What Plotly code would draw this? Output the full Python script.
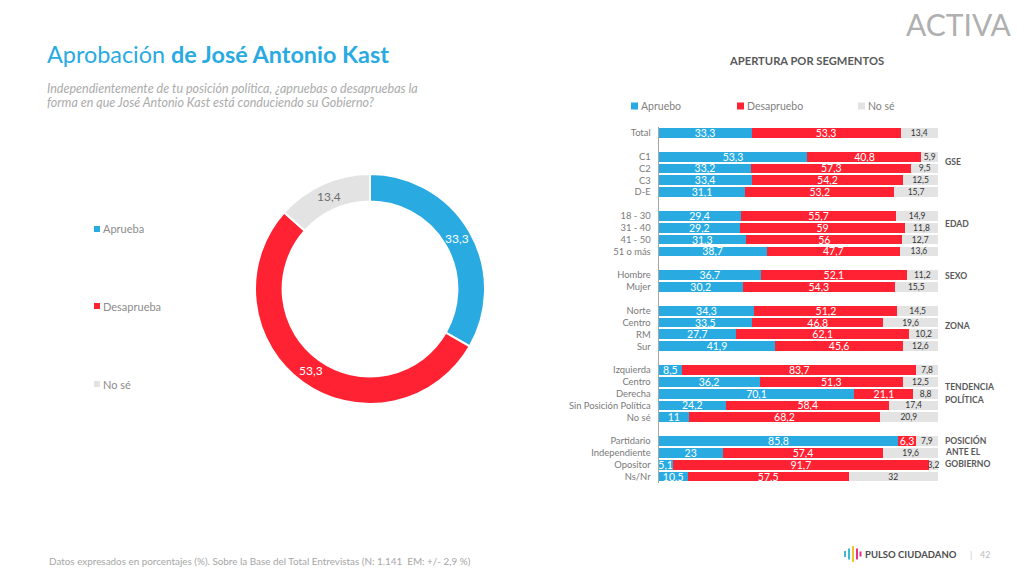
import math
import plotly.graph_objects as go

W, H = 1027, 578
BLUE, RED, GREY = "#29ABE2", "#FF2233", "#E3E3E3"
FONT = "Lato"

donut_labels = ["Aprueba", "Desaprueba", "No sé"]
donut_values = [33.3, 53.3, 13.4]

groups = [
    ["Total"],
    ["C1", "C2", "C3", "D-E"],
    ["18 - 30", "31 - 40", "41 - 50", "51 o más"],
    ["Hombre", "Mujer"],
    ["Norte", "Centro", "RM", "Sur"],
    ["Izquierda", "Centro", "Derecha", "Sin Posición Política", "No sé"],
    ["Partidario", "Independiente", "Opositor", "Ns/Nr"],
]
aprueba = [33.3, 53.3, 33.2, 33.4, 31.1, 29.4, 29.2, 31.3, 38.7, 36.7, 30.2,
           34.3, 33.5, 27.7, 41.9, 8.5, 36.2, 70.1, 24.2, 11, 85.8, 23, 5.1, 10.5]
desaprueba = [53.3, 40.8, 57.3, 54.2, 53.2, 55.7, 59, 56, 47.7, 52.1, 54.3,
              51.2, 46.8, 62.1, 45.6, 83.7, 51.3, 21.1, 58.4, 68.2, 6.3, 57.4, 91.7, 57.5]
nose = [13.4, 5.9, 9.5, 12.5, 15.7, 14.9, 11.8, 12.7, 13.6, 11.2, 15.5,
        14.5, 19.6, 10.2, 12.6, 7.8, 12.5, 8.8, 17.4, 20.9, 7.9, 19.6, 3.2, 32]

rows, labels = [], []
r = 0
for g in groups:
    for name in g:
        rows.append(r)
        labels.append(name)
        r += 1
    r += 1
last_row = rows[-1]


def px(x):
    return x / W


def py(y):
    return 1 - y / H


def comma(v):
    return str(v).replace(".", ",")


fig = go.Figure()
fig.add_trace(go.Pie(
    labels=donut_labels, values=donut_values, hole=0.76, sort=False, direction="clockwise",
    rotation=0, marker=dict(colors=[BLUE, RED, GREY], line=dict(color="white", width=2)),
    textinfo="none", domain=dict(x=[px(255), px(485)], y=[py(404), py(174)]),
    showlegend=False, hoverinfo="label+value",
))

for name, vals, col, tcol, size in [
    ("Apruebo", aprueba, BLUE, "white", 10.5),
    ("Desapruebo", desaprueba, RED, "white", 10.5),
    ("No sé", nose, GREY, "#333333", 8.5),
]:
    fig.add_trace(go.Bar(
        y=rows, x=vals, name=name, orientation="h", marker=dict(color=col, line=dict(width=0)),
        text=[comma(v) for v in vals], texttemplate="%{text}", textposition="inside",
        insidetextanchor="middle", textangle=0, constraintext="none", cliponaxis=False,
        insidetextfont=dict(family=FONT, size=size, color=tcol), showlegend=False,
    ))

fig.update_layout(
    width=W, height=H, margin=dict(l=0, r=0, t=0, b=0), autosize=False,
    paper_bgcolor="white", plot_bgcolor="white", barmode="stack", barnorm="percent", bargap=0.17,
    separators=",.", font=dict(family=FONT),
    xaxis=dict(domain=[px(658.5), px(938)], range=[0, 100.01], visible=False, fixedrange=True),
    yaxis=dict(domain=[py(482.5), py(127)], range=[last_row + 0.5, -0.5], tickmode="array",
               tickvals=rows, ticktext=labels, showgrid=False, zeroline=False, showline=True,
               linecolor="#A6A6A6", linewidth=1, ticks="", ticklabelstandoff=5,
               tickfont=dict(family=FONT, size=9.4, color="#7A7A7A"), fixedrange=True),
)


def note(x, y, text, size, color="#7F7F7F", anchor="left", **kw):
    fig.add_annotation(xref="paper", yref="paper", x=px(x), y=py(y), text=text, showarrow=False,
                       xanchor=anchor, yanchor="middle", align=anchor,
                       font=dict(family=kw.pop("family", FONT), size=size, color=color), **kw)


def square(x, y, s, color):
    fig.add_shape(type="rect", xref="paper", yref="paper", x0=px(x), x1=px(x + s),
                  y0=py(y + s / 2), y1=py(y - s / 2), fillcolor=color, line_width=0)


# Donut value labels sit mid-ring, at each slice's mid angle.
cx, cy, ring = 370, 289, 101
total = sum(donut_values)
start = 0
for v, col in zip(donut_values, ["white", "white", "#6E6E6E"]):
    a = 2 * math.pi * (start + v / 2) / total
    note(cx + ring * math.sin(a), cy - ring * math.cos(a), comma(v), 12, col, anchor="center")
    start += v

note(45, 54, "Aprobación <b>de José Antonio Kast</b>", 23.4, BLUE)
note(45, 88, "<i>Independientemente de tu posición política, ¿apruebas o desapruebas la</i>", 12.5, "#ABABAB")
note(45, 102, "<i>forma en que José Antonio Kast está conduciendo su Gobierno?</i>", 12.5, "#ABABAB")
note(806, 61, "<b>APERTURA POR SEGMENTOS</b>", 11.2, "#595959", anchor="center")
note(47, 561, "Datos expresados en porcentajes (%). Sobre la Base del Total Entrevistas (N: 1.141  EM: +/- 2,9 %)", 9.9, "#A6A6A6")

for y, name, col in [(229, "Aprueba", BLUE), (306, "Desaprueba", RED), (384, "No sé", GREY)]:
    square(94, y, 6, col)
    note(101, y, name, 11, "#8C8C8C")

for x, name, col in [(631, "Apruebo", BLUE), (737, "Desapruebo", RED), (858, "No sé", GREY)]:
    square(x, 106, 7, col)
    note(x + 8, 106, name, 10.5, "#7F7F7F")

group_notes = [
    (162, ["GSE"]), (224, ["EDAD"]), (276, ["SEXO"]), (326, ["ZONA"]),
    (387, ["TENDENCIA", "POLÍTICA"]), (440, ["POSICIÓN", "ANTE EL", "GOBIERNO"]),
]
for y, lines in group_notes:
    for i, line in enumerate(lines):
        note(943, y + 12 * i, f"<b>{line}</b>", 8.6, "#595959")

note(959, 24, "ACTIVA", 30, "#B0B0B0", anchor="center")
note(863, 554, "<b>PULSO CIUDADANO</b>", 9.5, "#4D4D4D")
note(968, 554, "|", 9, "#C8C8C8")
note(978, 554, "42", 9, "#BDBDBD")
for x, h, col in [(844, 6, "#3FB8D0"), (848, 11, "#3FB8D0"), (852, 16, "#F2C230"), (856, 11, "#E8308A"), (859.5, 5, "#E8308A")]:
    fig.add_shape(type="rect", xref="paper", yref="paper", x0=px(x), x1=px(x + 2),
                  y0=py(554 + h / 2), y1=py(554 - h / 2), fillcolor=col, line_width=0)

fig.write_html("out.html", config=dict(displayModeBar=False),
               post_script="document.body.style.margin='0';")
